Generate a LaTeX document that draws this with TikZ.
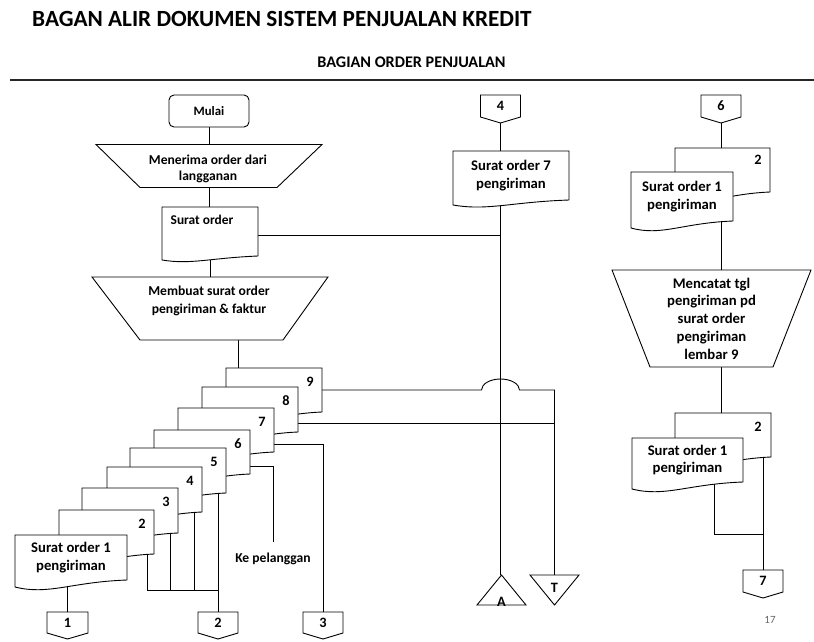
\documentclass[tikz,border=0pt]{standalone}
\usepackage{fontspec}
\setmainfont{Carlito}
\usetikzlibrary{calc}
\pgfdeclarelayer{lines}
\pgfdeclarelayer{shapes}
\pgfsetlayers{lines,shapes,main}
\newcommand\txtfont{\bfseries\fontsize{14.3}{17}\selectfont}
\newcommand\docfont{\bfseries\fontsize{14.7}{17.5}\selectfont}
% document outline: #1 wave depth at left, #2 node
\newcommand\docoutline[2][7]{\filldraw[shp] (#2.north west) -- (#2.north east) -- (#2.south east)
  .. controls ($(#2.south west)!0.5!(#2.south east)+(0,2)$) and ($(#2.south west)!0.3!(#2.south east)+(0,#1*2.2)$) .. ($(#2.south west)+(0,#1)$) -- cycle;}
% manual operation: #1 node, #2 left inset, #3 right inset
\newcommand\trapoutline[3]{\filldraw[shp] (#1.north west) -- (#1.north east) -- ($(#1.south east)+(-#3,0)$) -- ($(#1.south west)+(#2,0)$) -- cycle;}
% off-page connector
\newcommand\offpage[1]{\filldraw[shp] (#1.north west) -- (#1.north east) -- (#1.south east) -- ($(#1.south)+(0,6)$) -- (#1.south west) -- cycle;}
\tikzset{
  box/.style={rectangle, inner sep=0pt, outer sep=0pt, draw=none, font=\txtfont, align=center},
  docbox/.style={box, font=\docfont},
  txt/.style={inner sep=0pt, font=\txtfont, align=center},
  shp/.style={draw=black, fill=white, line width=0.9pt, line join=miter},
  ln/.style={draw=black, line width=0.9pt}
}
\begin{document}
\begin{tikzpicture}[x=1pt,y=-1pt]
\useasboundingbox (0,0) rectangle (814,642);
% titles
\node[anchor=west, inner sep=0pt, font=\bfseries\fontsize{23.2}{28}\selectfont] (title) at (32,19) {BAGAN ALIR DOKUMEN SISTEM PENJUALAN KREDIT};
\node[inner sep=0pt, font=\bfseries\fontsize{16.2}{18}\selectfont] (sub) at (411.5,62) {BAGIAN ORDER PENJUALAN};
\draw[line width=2.6pt, black!85] (10,80) -- (814,80);
\node[inner sep=0pt, font=\fontsize{11}{13}\selectfont, text=black!60] (pg) at (770,620) {17};

% left column
\node[box, font=\bfseries\fontsize{12.8}{15}\selectfont, draw, fill=white, line width=0.9pt, rounded corners=5pt, minimum width=80pt, minimum height=32pt] (mulai) at (209,111) {Mulai};
\node[box, minimum width=226pt, minimum height=43pt] (m1) at (209,166) {};
\node[txt, font=\bfseries\fontsize{13.6}{16.5}\selectfont] (m1t) at (208,169) {Menerima order dari\\langganan};
\node[box, minimum width=96pt, minimum height=49pt] (so) at (210,231.5) {};
\node[txt, font=\bfseries\fontsize{13.4}{16}\selectfont] (sot) at (202,220) {Surat order};
\node[box, minimum width=236pt, minimum height=63pt] (m2) at (210,308.5) {};
\node[txt, font=\bfseries\fontsize{13.6}{18}\selectfont] (m2t) at (209,301) {Membuat surat order\\pengiriman \& faktur};

% stacked documents
\node[box, minimum width=96pt, minimum height=44pt] (d9) at (274,390) {};
\node[box, minimum width=96pt, minimum height=45pt] (d8) at (250,409.5) {};
\node[box, minimum width=96pt, minimum height=44pt] (d7) at (226,430) {};
\node[box, minimum width=96pt, minimum height=44pt] (d6) at (202,452) {};
\node[box, minimum width=96pt, minimum height=45pt] (d5) at (178,470.5) {};
\node[box, minimum width=95pt, minimum height=45pt] (d4) at (154.5,489.5) {};
\node[box, minimum width=96pt, minimum height=45pt] (d3) at (130,510.5) {};
\node[box, minimum width=95pt, minimum height=44pt] (d2) at (106.5,532) {};
\node[docbox, minimum width=112pt, minimum height=45pt] (d1) at (71,557.5) {Surat order 1\\pengiriman};
\node[txt] (n9) at ($(d9.north east)+(-12,14)$) {9};
\node[txt] (n8) at ($(d8.north east)+(-12,14)$) {8};
\node[txt] (n7) at ($(d7.north east)+(-12,14)$) {7};
\node[txt] (n6) at ($(d6.north east)+(-12,14)$) {6};
\node[txt] (n5) at ($(d5.north east)+(-12,14)$) {5};
\node[txt] (n4) at ($(d4.north east)+(-12,14)$) {4};
\node[txt] (n3) at ($(d3.north east)+(-12,14)$) {3};
\node[txt] (n2) at ($(d2.north east)+(-12,14)$) {2};
\node[txt, font=\bfseries\fontsize{13.6}{16}\selectfont] (kp) at (273,559) {Ke pelanggan};

% off-page connectors
\node[box, minimum width=41pt, minimum height=21pt] (c1) at (67.5,622.5) {1};
\node[box, minimum width=40pt, minimum height=21pt] (c2) at (218,622.5) {2};
\node[box, minimum width=40pt, minimum height=21pt] (c3) at (323,622.5) {3};
\node[box, minimum width=40pt, minimum height=22pt] (c4) at (500.5,106) {4};
\node[box, minimum width=40pt, minimum height=22pt] (c6) at (721,106) {6};
\node[box, minimum width=40pt, minimum height=22pt] (c7) at (763,581) {7};

% middle column
\node[docbox, minimum width=116pt, minimum height=49pt] (s7) at (511,175.5) {Surat order 7\\pengiriman};
\node[box, minimum width=49pt, minimum height=30pt] (tA) at (501.5,590) {};
\node[txt] (tAl) at (501.5,602) {A};
\node[box, minimum width=49pt, minimum height=30pt] (tT) at (554.5,590) {};
\node[txt] (tTl) at (554.5,588) {T};

% right column
\node[box, minimum width=95pt, minimum height=44pt] (rb1) at (722.5,170) {};
\node[txt] (rb1n) at ($(rb1.north east)+(-12,12)$) {2};
\node[docbox, minimum width=102pt, minimum height=49pt] (rf1) at (682,196.5) {Surat order 1\\pengiriman};
\node[box, font=\bfseries\fontsize{14.7}{17.8}\selectfont, minimum width=199pt, minimum height=97pt] (m3) at (711.5,318.5) {Mencatat tgl\\pengiriman pd\\surat order\\pengiriman\\lembar 9};
\node[box, minimum width=96pt, minimum height=44pt] (rb2) at (723,435) {};
\node[txt] (rb2n) at ($(rb2.north east)+(-13,14)$) {2};
\node[docbox, minimum width=111pt, minimum height=44pt] (rf2) at (687.5,460) {Surat order 1\\pengiriman};

% shapes
\begin{pgfonlayer}{shapes}
\trapoutline{m1}{44}{45}
\docoutline[4]{so}
\trapoutline{m2}{48}{45}
\docoutline[5]{s7}
\docoutline{d9}\docoutline{d8}\docoutline{d7}\docoutline{d6}\docoutline{d5}
\docoutline{d4}\docoutline{d3}\docoutline{d2}\docoutline{d1}
\docoutline{rb1}\docoutline{rf1}
\trapoutline{m3}{38}{38}
\docoutline{rb2}\docoutline{rf2}
\offpage{c1}\offpage{c2}\offpage{c3}\offpage{c4}\offpage{c6}\offpage{c7}
\filldraw[shp] (tA.north) -- (tA.south east) -- (tA.south west) -- cycle;
\filldraw[shp] (tT.north west) -- (tT.north east) -- (tT.south) -- cycle;
\end{pgfonlayer}

% connectors
\begin{pgfonlayer}{lines}
\coordinate (soe) at ($(so.east)+(0,3.5)$);
\coordinate (m2o) at ($(d9.north west)+(12,0)$);
\coordinate (d8r) at ($(d8.south east)+(0,-9)$);
\coordinate (d7r) at ($(d7.south east)+(0,-8)$);
\coordinate (d6r) at ($(d6.south east)+(0,-8)$);
\coordinate (kpt) at ($(kp.north)+(0,-11)$);
\coordinate (bus) at ($(c2.north)+(0,-22)$);
\coordinate (j7) at ($(c7.north)+(0,-36)$);
\draw[ln] (mulai) -- (mulai |- so.center);
\draw[ln] (so.center) -- (so.center |- m2.center);
\draw[ln] (soe) -- (soe -| c4);
\draw[ln] (m2o) -- (m2o |- m2.center);
\draw[ln] (c4) -- (c4 |- tA.north);
\draw[ln] (d9.east) -- ($(d9.east -| c4)+(-19,0)$) arc[start angle=180, end angle=0, x radius=19pt, y radius=11pt] -- (d9.east -| tT.north) -- (tT.north);
\draw[ln] (d8r) -- (d8r -| tT.north);
\draw[ln] (d7r) -| (c3);
\draw[ln] (d6r) -| (kpt);
\draw[ln] (c2) -- (c2 |- d5.center);
\draw[ln] ($(d4.center)+(39.5,0)$) |- (bus);
\draw[ln] ($(d3.center)+(40,0)$) |- (bus);
\draw[ln] ($(d2.center)+(40.5,0)$) |- (bus);
\draw[ln] (c1) -- (c1 |- d1.center);
\draw[ln] (c6) -- (c6 |- rb1.center);
\draw[ln] (c6 |- rf1.center) -- (c6 |- m3.center);
\draw[ln] (c6 |- m3.center) -- (c6 |- rb2.center);
\draw[ln] (c7) -- (c7 |- rb2.center);
\draw[ln] ($(rf2.center)+(27,0)$) |- (j7);
\end{pgfonlayer}
\end{tikzpicture}
\end{document}
